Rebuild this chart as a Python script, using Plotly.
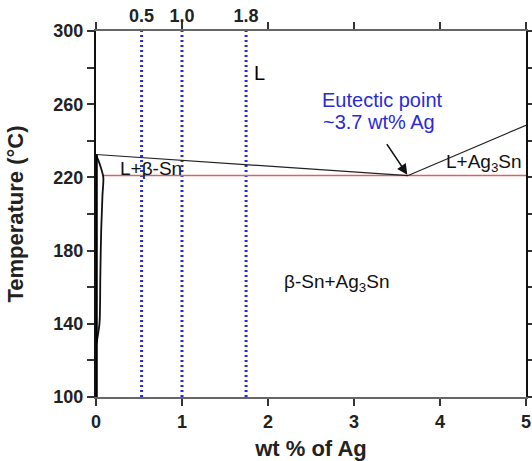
import plotly.graph_objects as go

# Phase boundary data (wt% Ag, temperature °C)
liquidus_sn_x = [0.0, 3.63]
liquidus_sn_y = [232.5, 221.0]
liquidus_ag3sn_x = [3.63, 5.0]
liquidus_ag3sn_y = [221.0, 248.5]
eutectic_x = [0.085, 5.0]
eutectic_y = [221.0, 221.0]
solvus_x = [0.0, 0.03, 0.065, 0.085, 0.075, 0.06, 0.05, 0.047, 0.04, 0.0]
solvus_y = [232.5, 229.0, 224.0, 220.0, 210.0, 190.0, 165.0, 150.0, 140.0, 128.0]
pure_sn_x = [0.0, 0.0]
pure_sn_y = [100.0, 232.5]
alloy_x = [0.53, 1.0, 1.745]
alloy_labels = ["0.5", "1.0", "1.8"]
y_ticks = [100, 140, 180, 220, 260, 300]
x_ticks = [0, 1, 2, 3, 4, 5]
y_range = [100, 300]
x_range = [0, 5]

FONT = "Arial, Liberation Sans, sans-serif"
BLUE = "#2a2ad8"

fig = go.Figure()

for xv in alloy_x:
    fig.add_trace(go.Scatter(x=[xv, xv], y=y_range, mode="lines",
                             line=dict(color=BLUE, width=3, dash="2px,3px"),
                             showlegend=False, hoverinfo="skip"))

fig.add_trace(go.Scatter(x=eutectic_x, y=eutectic_y, mode="lines",
                         line=dict(color="#e06060", width=1.5), showlegend=False))
fig.add_trace(go.Scatter(x=liquidus_sn_x, y=liquidus_sn_y, mode="lines",
                         line=dict(color="#222222", width=1.2), showlegend=False))
fig.add_trace(go.Scatter(x=liquidus_ag3sn_x, y=liquidus_ag3sn_y, mode="lines",
                         line=dict(color="#222222", width=1.2), showlegend=False))
fig.add_trace(go.Scatter(x=solvus_x, y=solvus_y, mode="lines",
                         line=dict(color="#111111", width=1.8, shape="spline"), showlegend=False))
fig.add_trace(go.Scatter(x=pure_sn_x, y=pure_sn_y, mode="lines",
                         line=dict(color="#000000", width=3.5), showlegend=False))

# top axis labels of alloy compositions
fig.add_trace(go.Scatter(x=alloy_x, y=[300] * len(alloy_x), xaxis="x2", mode="markers",
                         marker=dict(opacity=0), showlegend=False, hoverinfo="skip"))

annots = [
    dict(x=1.9, y=277, text="L", font=dict(size=20, color="black")),
    dict(x=0.645, y=224.6, text="L+β-Sn", font=dict(size=19, color="#111")),
    dict(x=4.51, y=227.9, text="L+Ag<sub>3</sub>Sn", font=dict(size=19, color="#111")),
    dict(x=2.8, y=162.3, text="β-Sn+Ag<sub>3</sub>Sn", font=dict(size=19, color="#111")),
    dict(x=2.6, y=262.3, text="Eutectic point", font=dict(size=20, color=BLUE), xanchor="left"),
    dict(x=2.62, y=250.3, text="~3.7 wt% Ag", font=dict(size=20, color=BLUE), xanchor="left"),
]
for a in annots:
    a.setdefault("xanchor", "center")
    fig.add_annotation(x=a["x"], y=a["y"], text=a["text"], showarrow=False,
                       font=dict(family=FONT, **a["font"]), xanchor=a["xanchor"],
                       yanchor="middle")

fig.add_annotation(x=3.62, y=221.5, ax=3.37, ay=239, xref="x", yref="y",
                   axref="x", ayref="y", text="", showarrow=True,
                   arrowhead=2, arrowsize=1.3, arrowwidth=1.6, arrowcolor="#111")

fig.update_layout(
    width=532, height=461,
    margin=dict(l=96, r=6, t=31, b=64),
    paper_bgcolor="white", plot_bgcolor="white",
    font=dict(family=FONT, color="#222"),
    xaxis=dict(range=x_range, tickvals=x_ticks, automargin=False,
               ticks="outside", ticklen=7, tickwidth=2, tickcolor="#333",
               showline=True, linecolor="#666", linewidth=2, mirror="ticks",
               showgrid=False, zeroline=False,
               tickfont=dict(size=18, family=FONT, color="#222", weight="bold"),
               title=dict(text="<b>wt % of Ag</b>", font=dict(size=22, family=FONT, color="#222"),
                          standoff=10)),
    xaxis2=dict(range=x_range, overlaying="x", side="top", tickvals=alloy_x, automargin=False,
                ticktext=alloy_labels, ticks="", showline=False, showgrid=False,
                ticklabelstandoff=4,
                zeroline=False, tickfont=dict(size=18, family=FONT, color="#222", weight="bold")),
    yaxis=dict(range=y_range, tickvals=y_ticks,
               minor=dict(dtick=20, tick0=100, ticks="outside", ticklen=7, tickwidth=2,
                          tickcolor="#333", showgrid=False),
               automargin=False,
               ticks="outside", ticklen=7, tickwidth=2, tickcolor="#333",
               showline=True, linecolor="#111", linewidth=2, mirror="ticks",
               showgrid=False, zeroline=False,
               tickfont=dict(size=18, family=FONT, color="#222", weight="bold"),
               title=dict(text="<b>Temperature (°C)</b>", font=dict(size=22, family=FONT, color="#222"),
                          standoff=24)),
)

fig.write_html("out.html")
